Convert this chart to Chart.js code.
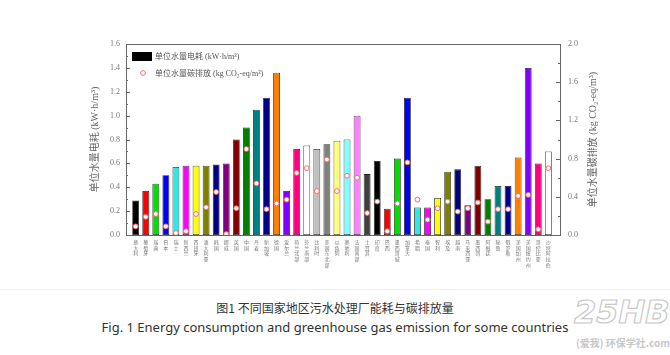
<!DOCTYPE html>
<html><head><meta charset="utf-8">
<script src="https://cdn.jsdelivr.net/npm/chart.js@4"></script>
<style>
html,body{margin:0;padding:0;background:#fff;width:670px;height:355px;overflow:hidden;}
#wrap{position:absolute;left:0;top:0;width:670px;height:285px;}
.cap{position:absolute;left:0;width:670px;text-align:center;white-space:nowrap;color:#333;}
.wm{position:absolute;color:#d8d8d8;white-space:nowrap;}
</style></head><body>
<div id="wrap"><canvas id="c" width="670" height="285"></canvas></div>
<div style="position:absolute;left:0;top:289px;width:670px;height:1px;background:#eeeeee"></div>
<div class="cap" id="cn" style="top:299px;font:12px 'Noto Sans CJK SC';">图1 不同国家地区污水处理厂能耗与碳排放量</div>
<div class="cap" id="en" style="top:318px;font:13px 'Noto Sans';">Fig. 1 Energy consumption and greenhouse gas emission for some countries</div>
<div class="wm" style="left:574px;top:293px;font:italic bold 32px 'DejaVu Sans';color:transparent;-webkit-text-stroke:1.2px #c8c8c8;">25HB</div>
<div class="wm" style="left:576px;top:335px;font:bold 10px 'Noto Sans CJK SC';color:#c8c8c8;">(爱我) 环保学社.com</div>
<script>
const categories = ["意大利","葡萄牙","瑞典","日本","瑞士","新西兰","西班牙","澳大利亚","韩国","挪威","英国","中国","丹麦","新加坡","德国","爱尔兰",
  "荷兰北部","芬兰南部","比利时","美国东北部","以色列","奥地利","法国南部","土耳其","印度","巴西","墨西哥城","加拿大","希腊","泰国","智利","埃及",
  "越南","马来西亚","墨西哥","阿根廷","秘鲁","俄罗斯","美国加州","美国纽约州","哥伦比亚","沙特阿拉伯"];
const energyUse = [0.29,0.37,0.43,0.50,0.57,0.58,0.58,0.58,0.59,0.60,0.80,0.90,1.05,1.15,1.36,0.37,
  0.72,0.75,0.72,0.76,0.79,0.80,1.00,0.51,0.62,0.22,0.64,1.15,0.23,0.23,0.31,0.53,
  0.55,0.25,0.58,0.30,0.41,0.41,0.65,1.40,0.60,0.70];
const carbonEmission = [0.09,0.19,0.22,0.09,0.02,0.04,0.22,0.29,0.45,0.01,0.28,0.90,0.54,0.27,0.33,0.37,
  0.65,0.70,0.46,0.79,0.46,0.62,0.60,0.23,0.35,0.04,0.33,0.76,0.37,0.16,0.28,0.35,
  0.245,0.28,0.34,0.14,0.27,0.27,0.41,0.42,0.06,0.70];
const barColors = ["#000000","#ff0000","#00e000","#0000ff","#33e6e6","#ff00ff","#ffff00","#808000","#000080","#800080","#800000","#008000","#008080","#00008b","#ff8000","#8000ff",
  "#ff0080","#ffffff","#c0c0c0","#808080","#ffff80","#80ffff","#ff80ff","#404040","#000000","#ff0000","#00e000","#0000ff","#33e6e6","#ff00ff","#ffff00","#808000",
  "#000080","#800080","#800000","#008000","#008080","#00008b","#ff8000","#8000ff","#ff0080","#ffffff"];
const leftTicks = [0,0.2,0.4,0.6,0.8,1.0,1.2,1.4,1.6];
const rightTicks = [0,0.4,0.8,1.2,1.6,2.0];
const leftTitle = "单位水量电耗 (kW·h/m³)";
const rightTitle = "单位水量碳排放 (kg CO₂-eq/m³)";
const legendBar = "单位水量电耗 (kW·h/m³)";
const legendPoint = "单位水量碳排放 (kg CO₂-eq/m³)";

const serif = "'Liberation Serif','Noto Sans CJK SC'";
const pointEdge = '#ff6a6a';

const deco = {
  id: 'deco',
  afterDraw(chart) {
    const ctx = chart.ctx, a = chart.chartArea;
    const yl = chart.scales.y, yr = chart.scales.y2;
    ctx.save();
    ctx.strokeStyle = '#666'; ctx.lineWidth = 1;
    ctx.beginPath();
    ctx.moveTo(a.left, a.top + 0.5); ctx.lineTo(a.right, a.top + 0.5);
    for (let i = 0; i < leftTicks.length; i++) {
      const y = Math.round(yl.getPixelForValue(leftTicks[i])) + 0.5;
      ctx.moveTo(a.left, y); ctx.lineTo(a.left + 4, y);
      if (i < leftTicks.length - 1) {
        const ym = Math.round(yl.getPixelForValue((leftTicks[i] + leftTicks[i+1]) / 2)) + 0.5;
        ctx.moveTo(a.left, ym); ctx.lineTo(a.left + 2, ym);
      }
    }
    for (let i = 0; i < rightTicks.length; i++) {
      const y = Math.round(yr.getPixelForValue(rightTicks[i])) + 0.5;
      ctx.moveTo(a.right, y); ctx.lineTo(a.right - 4, y);
      if (i < rightTicks.length - 1) {
        const ym = Math.round(yr.getPixelForValue((rightTicks[i] + rightTicks[i+1]) / 2)) + 0.5;
        ctx.moveTo(a.right, ym); ctx.lineTo(a.right - 2, ym);
      }
    }
    ctx.stroke();
    // legend
    ctx.fillStyle = '#000';
    ctx.fillRect(a.left + 6, 52, 20, 9);
    ctx.beginPath();
    ctx.arc(a.left + 17, 73, 2.4, 0, Math.PI * 2);
    ctx.fillStyle = '#fff'; ctx.fill();
    ctx.strokeStyle = pointEdge; ctx.lineWidth = 1; ctx.stroke();
    ctx.fillStyle = '#555';
    ctx.font = "8px " + serif;
    ctx.textBaseline = 'middle'; ctx.textAlign = 'left';
    ctx.fillText(legendBar, a.left + 29, 57);
    ctx.fillText(legendPoint, a.left + 29, 74);
    // axis titles
    ctx.font = "10px " + serif;
    ctx.fillStyle = '#666';
    ctx.textAlign = 'center';
    const cy = (a.top + a.bottom) / 2;
    ctx.save(); ctx.translate(95, cy); ctx.rotate(-Math.PI / 2); ctx.fillText(leftTitle, 0, 0); ctx.restore();
    ctx.save(); ctx.translate(593, cy); ctx.rotate(-Math.PI / 2); ctx.fillText(rightTitle, 0, 0); ctx.restore();
    ctx.restore();
  }
};

new Chart(document.getElementById('c'), {
  type: 'bar',
  data: {
    datasets: [
      {
        type: 'line',
        label: legendPoint,
        data: carbonEmission.map((v, i) => ({x: i, y: v})),
        yAxisID: 'y2',
        showLine: false,
        pointRadius: 2.4,
        pointBackgroundColor: '#ffffff',
        pointBorderColor: pointEdge,
        pointBorderWidth: 1,
        order: 0
      },
      {
        label: legendBar,
        data: energyUse.map((v, i) => ({x: i, y: v})),
        yAxisID: 'y',
        backgroundColor: barColors,
        borderColor: '#222',
        borderWidth: 0.8,
        borderSkipped: false,
        barPercentage: 0.68,
        categoryPercentage: 1,
        order: 1
      }
    ]
  },
  options: {
    responsive: false,
    animation: false,
    devicePixelRatio: 1,
    layout: {padding: {top: 44, left: 0, right: 0, bottom: 0}},
    plugins: {legend: {display: false}, tooltip: {enabled: false}},
    scales: {
      x: {
        type: 'linear',
        min: -0.96, max: 42.16,
        offset: false,
        afterBuildTicks(s) { s.ticks = categories.map((_, i) => ({value: i})); },
        afterFit(s) { s.height = 50; },
        grid: {display: false, drawTicks: false},
        border: {display: true, color: '#666', width: 1},
        ticks: {
          autoSkip: false, maxRotation: 0, minRotation: 0, padding: 4,
          color: '#777',
          font: {family: "'Noto Sans CJK SC'", size: 5, lineHeight: 1.15},
          callback: (v) => (categories[v] || '').split('')
        }
      },
      y: {
        position: 'left',
        min: 0, max: 1.6,
        afterBuildTicks(s) { s.ticks = leftTicks.map(v => ({value: v})); },
        afterFit(s) { s.width = 126; },
        grid: {display: false, drawTicks: false},
        border: {display: true, color: '#666', width: 1},
        ticks: {padding: 6, color: '#777', font: {family: "'Liberation Serif'", size: 8},
          callback: v => Number(v).toFixed(1)}
      },
      y2: {
        position: 'right',
        min: 0, max: 2.0,
        afterBuildTicks(s) { s.ticks = rightTicks.map(v => ({value: v})); },
        afterFit(s) { s.width = 110; },
        grid: {display: false, drawTicks: false},
        border: {display: true, color: '#666', width: 1},
        ticks: {padding: 8, color: '#777', font: {family: "'Liberation Serif'", size: 8},
          callback: v => Number(v).toFixed(1)}
      }
    }
  },
  plugins: [deco]
});
</script>
</body></html>
